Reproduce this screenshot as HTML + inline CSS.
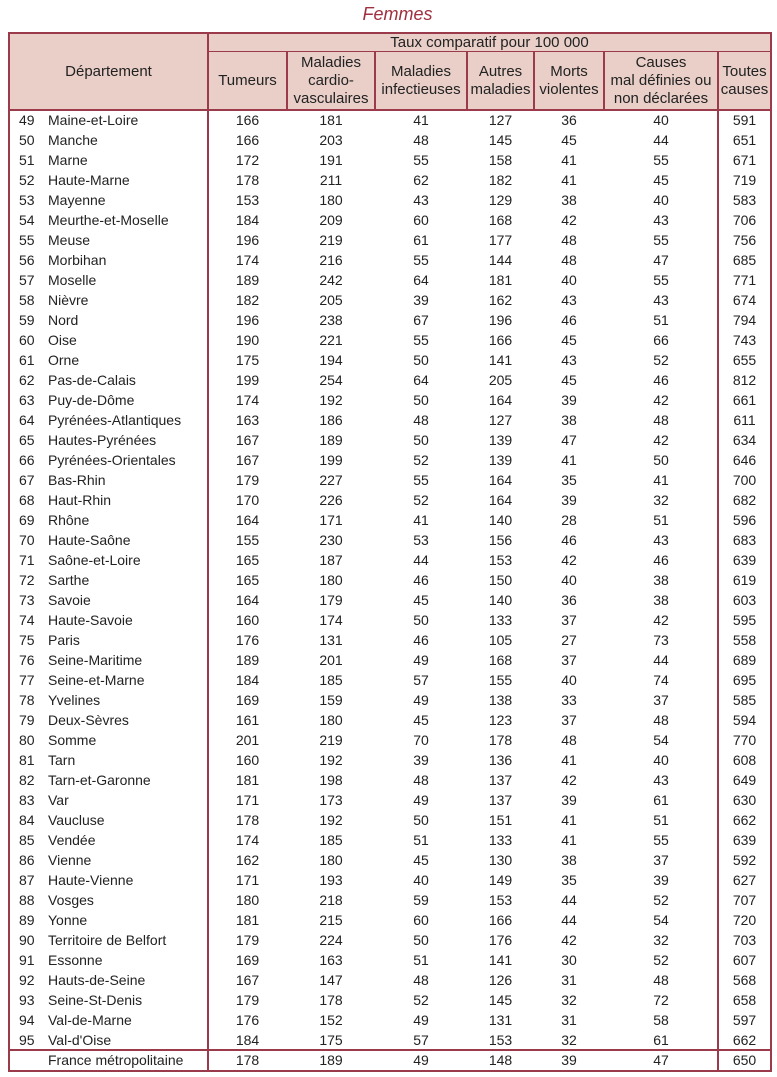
<!DOCTYPE html>
<html><head><meta charset="utf-8">
<style>
body{margin:0;background:#fff;width:777px;height:1077px;position:relative;overflow:hidden;font-family:"Liberation Sans",sans-serif;color:#222}
.a{position:absolute}
.t{position:absolute;font-size:14px;line-height:20px;white-space:nowrap}
.c{text-align:center}
.h{position:absolute;font-size:15px;line-height:18px;text-align:center;display:flex;align-items:center;justify-content:center;color:#222}
.vl{position:absolute;width:2px;background:#9b3a4a}
.hl{position:absolute;height:2px;background:#9b3a4a}
</style></head><body>
<div class="a" style="left:0;width:795px;top:4px;text-align:center;font-size:18px;font-style:italic;color:#a03040">Femmes</div>
<div class="a" style="left:9px;top:33px;width:762px;height:77px;background:#e9cfc8"></div>
<div id="tbl"></div>
<script>
const depts=[["49","Maine-et-Loire"],["50","Manche"],["51","Marne"],["52","Haute-Marne"],["53","Mayenne"],["54","Meurthe-et-Moselle"],["55","Meuse"],["56","Morbihan"],["57","Moselle"],["58","Nièvre"],["59","Nord"],["60","Oise"],["61","Orne"],["62","Pas-de-Calais"],["63","Puy-de-Dôme"],["64","Pyrénées-Atlantiques"],["65","Hautes-Pyrénées"],["66","Pyrénées-Orientales"],["67","Bas-Rhin"],["68","Haut-Rhin"],["69","Rhône"],["70","Haute-Saône"],["71","Saône-et-Loire"],["72","Sarthe"],["73","Savoie"],["74","Haute-Savoie"],["75","Paris"],["76","Seine-Maritime"],["77","Seine-et-Marne"],["78","Yvelines"],["79","Deux-Sèvres"],["80","Somme"],["81","Tarn"],["82","Tarn-et-Garonne"],["83","Var"],["84","Vaucluse"],["85","Vendée"],["86","Vienne"],["87","Haute-Vienne"],["88","Vosges"],["89","Yonne"],["90","Territoire de Belfort"],["91","Essonne"],["92","Hauts-de-Seine"],["93","Seine-St-Denis"],["94","Val-de-Marne"],["95","Val-d'Oise"],["","France métropolitaine"]];
const tumeurs=[166,166,172,178,153,184,196,174,189,182,196,190,175,199,174,163,167,167,179,170,164,155,165,165,164,160,176,189,184,169,161,201,160,181,171,178,174,162,171,180,181,179,169,167,179,176,184,178];
const cardio=[181,203,191,211,180,209,219,216,242,205,238,221,194,254,192,186,189,199,227,226,171,230,187,180,179,174,131,201,185,159,180,219,192,198,173,192,185,180,193,218,215,224,163,147,178,152,175,189];
const infect=[41,48,55,62,43,60,61,55,64,39,67,55,50,64,50,48,50,52,55,52,41,53,44,46,45,50,46,49,57,49,45,70,39,48,49,50,51,45,40,59,60,50,51,48,52,49,57,49];
const autres=[127,145,158,182,129,168,177,144,181,162,196,166,141,205,164,127,139,139,164,164,140,156,153,150,140,133,105,168,155,138,123,178,136,137,137,151,133,130,149,153,166,176,141,126,145,131,153,148];
const morts=[36,45,41,41,38,42,48,48,40,43,46,45,43,45,39,38,47,41,35,39,28,46,42,40,36,37,27,37,40,33,37,48,41,42,39,41,41,38,35,44,44,42,30,31,32,31,32,39];
const malDef=[40,44,55,45,40,43,55,47,55,43,51,66,52,46,42,48,42,50,41,32,51,43,46,38,38,42,73,44,74,37,48,54,40,43,61,51,55,37,39,52,54,32,52,48,72,58,61,47];
const toutes=[591,651,671,719,583,706,756,685,771,674,794,743,655,812,661,611,634,646,700,682,596,683,639,619,603,595,558,689,695,585,594,770,608,649,630,662,639,592,627,707,720,703,607,568,658,597,662,650];
const colNames=["Tumeurs","Maladies<br>cardio-<br>vasculaires","Maladies<br>infectieuses","Autres<br>maladies","Morts<br>violentes","Causes<br>mal définies ou<br>non déclarées","Toutes<br>causes"];
const series=[tumeurs,cardio,infect,autres,morts,malDef,toutes];
const seriesNames=['tumeurs','cardio','infect','autres','morts','mal-definies','toutes'];
const xs=[208,287,375,467,534,604,718,771];
const T=document.getElementById('tbl');
function add(cls,style,html,name){const d=document.createElement('div');d.className=cls;d.style.cssText=style;if(html!=null)d.innerHTML=html;


T.appendChild(d);return d;}
add('h','left:9px;top:33px;width:199px;height:77px;','Département','header-departement');
add('h','left:208px;top:33px;width:563px;height:19px;','Taux comparatif pour 100 000','header-taux');
for(let i=0;i<7;i++){add('h',`left:${xs[i]}px;top:52px;width:${xs[i+1]-xs[i]}px;height:58px;`,colNames[i],'header-'+seriesNames[i]);}
const top0=110,rh=20;
depts.forEach((d,r)=>{
 const y=top0+r*rh+(r===depts.length-1?0:0);
 add('t',`left:19px;top:${y}px;`,d[0],'dept-number');
 add('t',`left:48px;top:${y}px;`,d[1],'dept-name');
 for(let i=0;i<7;i++){add('t c',`left:${xs[i]}px;top:${y}px;width:${xs[i+1]-xs[i]}px;`,String(series[i][r]),'cell-'+seriesNames[i]);}
});
const bottom=top0+depts.length*rh+1;
add('hl','left:9px;top:32px;width:763px;',null,'top-border');
add('hl',`left:209px;top:51px;width:562px;height:1px;`,null,'header-divider');
add('hl','left:9px;top:109px;width:763px;',null,'header-bottom-border');
add('hl',`left:9px;top:${top0+(depts.length-1)*rh-1}px;width:763px;`,null,'total-divider');
add('hl',`left:9px;top:${bottom-1}px;width:763px;`,null,'bottom-border');
add('vl',`left:8px;top:32px;height:${bottom-32+1}px;`,null,'left-border');
add('vl',`left:770px;top:32px;height:${bottom-32+1}px;`,null,'right-border');
add('vl',`left:207px;top:32px;height:${bottom-32+1}px;`,null,'dept-divider');
add('vl',`left:717px;top:52px;height:${bottom-52+1}px;`,null,'toutes-divider');
for(let i=1;i<6;i++){add('vl',`left:${xs[i]-1}px;top:52px;height:58px;`,null,'header-col-divider');}
</script>
</body></html>
